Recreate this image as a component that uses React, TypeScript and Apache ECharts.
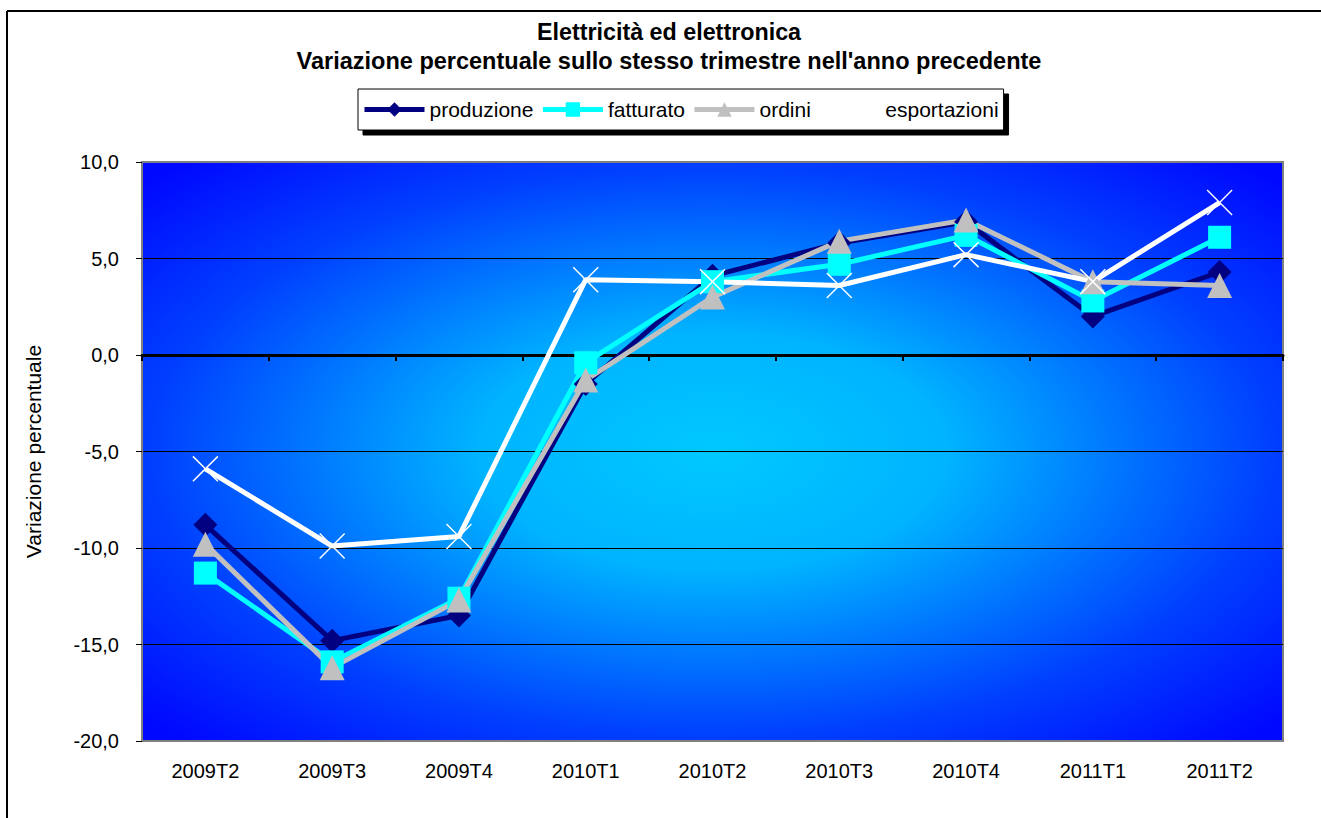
import React, { useEffect, useRef } from "react";
import * as echarts from "echarts";

const categories = ["2009T2", "2009T3", "2009T4", "2010T1", "2010T2", "2010T3", "2010T4", "2011T1", "2011T2"];
const produzione = [-8.8, -14.8, -13.5, -1.5, 4.1, 5.8, 6.9, 2.0, 4.3];
const fatturato = [-11.3, -15.9, -12.6, -0.4, 3.8, 4.7, 6.2, 2.8, 6.1];
const ordini = [-9.8, -16.2, -12.7, -1.3, 3.0, 5.9, 7.0, 3.8, 3.6];
const esportazioni = [-5.9, -9.9, -9.4, 3.9, 3.8, 3.6, 5.2, 3.8, 7.9];
const titleLine1 = "Elettricità ed elettronica";
const titleLine2 = "Variazione percentuale sullo stesso trimestre nell'anno precedente";
const yAxisName = "Variazione percentuale";

const FONT = "'Liberation Sans', Arial, sans-serif";
const X_SYMBOL = "path://M0,4L4,0L50,46L96,0L100,4L54,50L100,96L96,100L50,54L4,100L0,96L46,50Z";

export default function App() {
  const ref = useRef<HTMLDivElement>(null);
  useEffect(() => {
    if (!ref.current) return;
    const chart = echarts.init(ref.current, null, { renderer: "svg" });
    const mk = (name: string, data: number[], color: string, symbol: string, size: number) => ({
      name,
      type: "line",
      data,
      xAxisIndex: 0,
      yAxisIndex: 0,
      symbol,
      symbolSize: size,
      showAllSymbol: true,
      lineStyle: { color, width: 5 },
      itemStyle: { color, borderWidth: 0 },
      emphasis: { disabled: true },
    });
    chart.setOption({
      animation: false,
      textStyle: { fontFamily: FONT },
      title: [
        {
          text: titleLine1,
          left: 669,
          top: 20,
          textAlign: "center",
          padding: 0,
          textStyle: { fontSize: 23.3, fontWeight: "bold", color: "#000", fontFamily: FONT },
        },
        {
          text: titleLine2,
          left: 669,
          top: 49,
          textAlign: "center",
          padding: 0,
          textStyle: { fontSize: 23.5, fontWeight: "bold", color: "#000", fontFamily: FONT },
        },
      ],
      legend: {
        left: 358,
        top: 89,
        orient: "horizontal",
        itemWidth: 60,
        itemHeight: 18,
        itemGap: 7,
        padding: [9, 5, 9, 4],
        backgroundColor: "#fff",
        borderColor: "#000",
        borderWidth: 1,
        borderRadius: 0,
        shadowColor: "#000",
        shadowBlur: 0,
        shadowOffsetX: 5,
        shadowOffsetY: 5,
        selectedMode: false,
        lineStyle: { width: 5 },
        textStyle: { fontSize: 21, color: "#000", fontFamily: FONT, lineHeight: 23 },
        data: ["produzione", "fatturato", "ordini", "esportazioni"],
      },
      grid: {
        left: 142,
        top: 162,
        width: 1141,
        height: 579,
        show: true,
        borderColor: "#808080",
        borderWidth: 2,
        backgroundColor: new echarts.graphic.RadialGradient(0.5, 0.5, 0.68, [
          { offset: 0, color: "#00C8FF" },
          { offset: 0.3, color: "#00B4FF" },
          { offset: 0.72, color: "#0040FF" },
          { offset: 1, color: "#0008FF" },
        ]),
      },
      xAxis: [
        {
          type: "category",
          data: categories,
          position: "bottom",
          boundaryGap: true,
          axisLine: { show: true, onZero: false, lineStyle: { color: "#808080", width: 2 } },
          axisTick: { show: false },
          axisLabel: { fontSize: 20, color: "#000", margin: 20, fontFamily: FONT },
          splitLine: { show: false },
        },
        {
          type: "category",
          data: categories,
          position: "bottom",
          boundaryGap: true,
          axisLine: { show: true, onZero: true, lineStyle: { color: "#000", width: 3 } },
          axisTick: { show: true, inside: false, length: 6, lineStyle: { color: "#000", width: 2 } },
          axisLabel: { show: false },
          splitLine: { show: false },
        },
      ],
      yAxis: {
        type: "value",
        min: -20,
        max: 10,
        interval: 5,
        name: yAxisName,
        nameLocation: "middle",
        nameRotate: 90,
        nameGap: 98,
        nameTextStyle: { fontSize: 21, color: "#000", fontFamily: FONT },
        axisLine: { show: true, lineStyle: { color: "#808080", width: 2 } },
        axisTick: { show: true, length: 6, lineStyle: { color: "#000", width: 1 } },
        axisLabel: {
          fontSize: 20,
          color: "#000",
          margin: 23,
          fontFamily: FONT,
          formatter: (v: number) => v.toFixed(1).replace(".", ","),
        },
        splitLine: { show: true, showMinLine: false, showMaxLine: false, lineStyle: { color: "#000", width: 1 } },
      },
      graphic: [
        { type: "line", shape: { x1: 7, y1: 11, x2: 1321, y2: 11 }, style: { stroke: "#000", lineWidth: 2 }, silent: true },
        { type: "line", shape: { x1: 7, y1: 11, x2: 7, y2: 818 }, style: { stroke: "#000", lineWidth: 2 }, silent: true },
      ],
      series: [
        mk("produzione", produzione, "#000080", "diamond", 24),
        mk("fatturato", fatturato, "#00FFFF", "rect", 23),
        mk("ordini", ordini, "#C0C0C0", "triangle", 25),
        mk("esportazioni", esportazioni, "#FFFFFF", X_SYMBOL, 26),
      ],
    });
    return () => chart.dispose();
  }, []);
  return (
    <div
      ref={ref}
      style={{ position: "absolute", left: 0, top: 0, width: 1321, height: 818, background: "#fff" }}
    />
  );
}
